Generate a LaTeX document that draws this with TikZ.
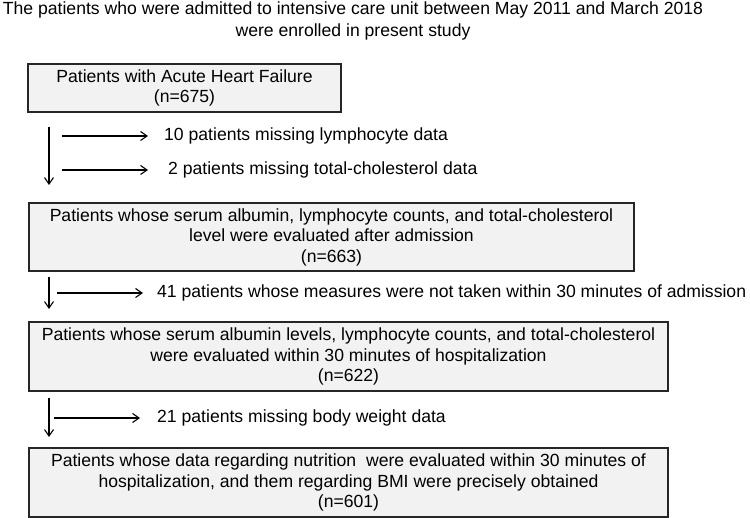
\documentclass[tikz,border=0pt]{standalone}
\usepackage{fontspec}
\setmainfont{Liberation Sans}
\usetikzlibrary{positioning,arrows.meta}

\begin{document}
\begin{tikzpicture}[
    x=1pt,y=-1pt,
    stagebox/.style={draw=black!85,fill=black!5,line width=1.3pt,
                     align=center,inner sep=0pt,
                     font=\fontsize{17.6}{20.5}\selectfont},
    droptext/.style={anchor=west,inner sep=0pt,
                     font=\fontsize{17.6}{20}\selectfont},
    flow/.style={draw=black,line width=1.1pt,
                 -{Straight Barb[length=6.5pt,width=9pt]}}
]
  \useasboundingbox (0,0) rectangle (750,518);

  % Heading above the flow chart.
  \node[align=center,font=\fontsize{17.6}{22}\selectfont] (head) at (353,21)
    {The patients who were admitted to intensive care unit between May 2011 and March 2018\\
     were enrolled in present study};

  % The four stages of the cohort.
  \node[stagebox,minimum width=313,minimum height=48] (s1) at (184.5,88)
    {Patients with Acute Heart Failure\\(n=675)};
  \node[stagebox,minimum width=605,minimum height=68] (s2) at (331.5,237)
    {Patients whose serum albumin, lymphocyte counts, and total-cholesterol\\
     level were evaluated after admission\\(n=663)};
  \node[stagebox,minimum width=639,minimum height=69] (s3) at (348.5,356.5)
    {Patients whose serum albumin levels, lymphocyte counts, and total-cholesterol\\
     were evaluated within 30 minutes of hospitalization\\(n=622)};
  \node[stagebox,minimum width=639,minimum height=69] (s4) at (348.5,482.5)
    {Patients whose data regarding nutrition\ \ were evaluated within 30 minutes of\\
     hospitalization, and them regarding BMI were precisely obtained\\(n=601)};

  % Excluded patients at each step.
  \node[droptext] (d1) at (164,136) {10 patients missing lymphocyte data};
  \node[droptext] (d2) at (168,170) {2 patients missing total-cholesterol data};
  \node[droptext] (d3) at (157,293) {41 patients whose measures were not taken within 30 minutes of admission};
  \node[droptext] (d4) at (157,418) {21 patients missing body weight data};

  % Start and end points of the arrows.
  \coordinate (v1a) at (49,127);
  \coordinate (v1b) at (49,185);
  \coordinate (h1) at (62,136);
  \coordinate (h2) at (62,170);
  \coordinate (v2a) at (49,277);
  \coordinate (v2b) at (49,309);
  \coordinate (h3) at (57,293);
  \coordinate (v3a) at (49,398);
  \coordinate (v3b) at (49,437);
  \coordinate (h4) at (54,418);

  \draw[flow] (v1a) -- (v1b);
  \draw[flow] (h1) -- ([xshift=-16pt]d1.west);
  \draw[flow] (h2) -- ([xshift=-20pt]d2.west);
  \draw[flow] (v2a) -- (v2b);
  \draw[flow] (h3) -- ([xshift=-14pt]d3.west);
  \draw[flow] (v3a) -- (v3b);
  \draw[flow] (h4) -- ([xshift=-17pt]d4.west);
\end{tikzpicture}
\end{document}
